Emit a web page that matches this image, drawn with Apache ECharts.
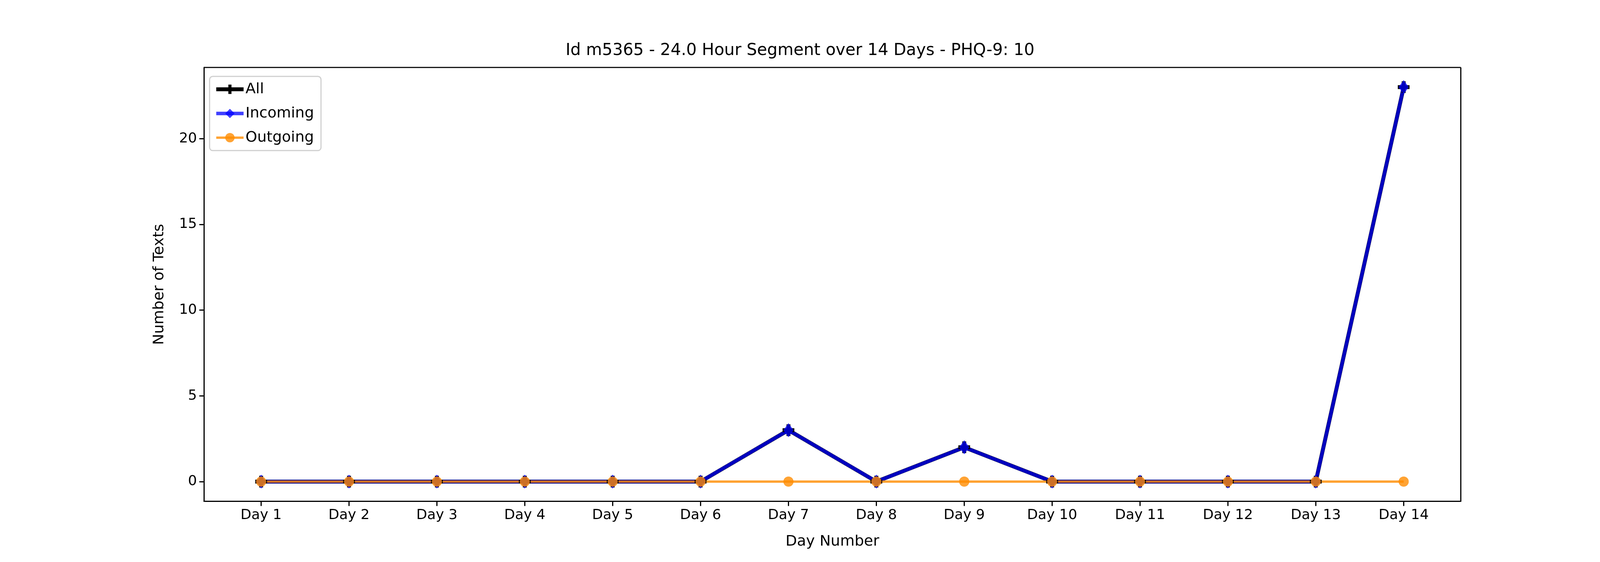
<!DOCTYPE html><html><head><meta charset="utf-8">
<script src="https://cdn.jsdelivr.net/npm/echarts@6/dist/echarts.min.js"></script>
<style>html,body{margin:0;background:#fff;overflow:hidden}#c{width:100vw;height:100vh}</style></head><body><div id="c"></div>
<script>
const days = [1,2,3,4,5,6,7,8,9,10,11,12,13,14];
const allTexts = [0,0,0,0,0,0,3,0,2,0,0,0,0,23];
const incoming = [0,0,0,0,0,0,3,0,2,0,0,0,0,23];
const outgoing = [0,0,0,0,0,0,0,0,0,0,0,0,0,0];
const yTicks = [0,5,10,15,20];
const plus = 'path://M-1,-3H1V-1H3V1H1V3H-1V1H-3V-1H-1Z';
const ff = 'DejaVu Sans';
const pair = a => days.map((d,i)=>[d,a[i]]);
const chart = echarts.init(document.getElementById('c'));
chart.setOption({
  animation:false,
  textStyle:{fontFamily:ff},
  title:{text:'Id m5365 - 24.0 Hour Segment over 14 Days - PHQ-9: 10',left:'center',top:'7.2%',textStyle:{fontFamily:ff,fontSize:42,fontWeight:'normal',color:'#000'}},
  grid:{left:'12.75%',right:'8.7%',top:'12%',bottom:'10.8%'},
  legend:{orient:'vertical',left:'13.1%',top:'13.6%',itemWidth:70,itemHeight:30,itemGap:24,padding:[14,18,14,12],
    borderColor:'#d0d0d0',borderWidth:3,borderRadius:8,backgroundColor:'#fff',
    textStyle:{fontFamily:ff,fontSize:38,color:'#000'},
    data:[{name:'All',lineStyle:{width:10}},{name:'Incoming',lineStyle:{width:9}},{name:'Outgoing',lineStyle:{width:6}}]},
  xAxis:{type:'value',min:0.35,max:14.65,name:'Day Number',nameLocation:'middle',nameGap:85,
    nameTextStyle:{fontFamily:ff,fontSize:38,color:'#000'},
    axisLine:{onZero:false,lineStyle:{color:'#000',width:3}},
    axisTick:{length:12,lineStyle:{width:3,color:'#000'},customValues:days},
    axisLabel:{fontSize:36,color:'#000',margin:18,customValues:days,formatter:v=>'Day '+v},
    splitLine:{show:false}},
  yAxis:{type:'value',min:-1.15,max:24.15,name:'Number of Texts',nameLocation:'middle',nameGap:95,
    nameTextStyle:{fontFamily:ff,fontSize:38,color:'#000'},
    axisLine:{show:true,lineStyle:{color:'#000',width:3}},
    axisLabel:{fontSize:36,color:'#000',margin:18,customValues:yTicks},
    axisTick:{show:true,length:12,lineStyle:{width:3,color:'#000'},customValues:yTicks},
    splitLine:{show:false}},
  series:[
    {name:'All',type:'line',data:pair(allTexts),symbol:plus,symbolSize:30,lineStyle:{color:'#000',width:10},itemStyle:{color:'#000'}},
    {name:'Incoming',type:'line',data:pair(incoming),symbol:'diamond',symbolSize:[26,36],lineStyle:{color:'rgba(0,0,255,0.75)',width:9},itemStyle:{color:'rgba(0,0,255,0.75)'}},
    {name:'Outgoing',type:'line',data:pair(outgoing),symbol:'circle',symbolSize:26,lineStyle:{color:'rgba(255,140,0,0.8)',width:6},itemStyle:{color:'rgba(255,140,0,0.8)'}},
    {type:'line',data:[[0.35,24.15],[14.65,24.15]],symbol:'none',lineStyle:{color:'#000',width:3},silent:true,z:1},
    {type:'line',data:[[14.65,-1.15],[14.65,24.15]],symbol:'none',lineStyle:{color:'#000',width:3},silent:true,z:1}
  ]
});
window.addEventListener('resize',()=>chart.resize());
</script></body></html>
